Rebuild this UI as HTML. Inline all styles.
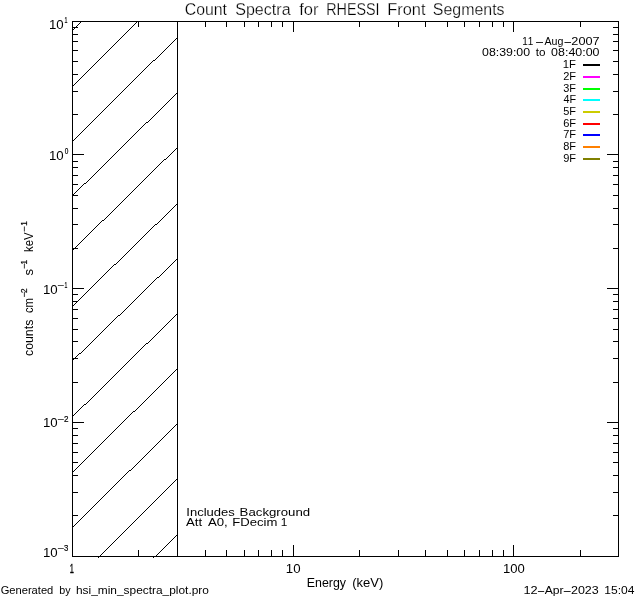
<!DOCTYPE html>
<html><head><meta charset="utf-8"><title>Count Spectra for RHESSI Front Segments</title>
<style>
html,body{margin:0;padding:0;background:#fff;overflow:hidden;}
svg{display:block;}
text{font-family:"Liberation Sans",sans-serif;fill:#000;white-space:pre;font-kerning:none;}
text.t{stroke:#fff;stroke-width:0.25px;}
.b{stroke:#000;stroke-width:0.35px;}
.u{stroke:#000;stroke-width:0.2px;}
</style></head><body>
<svg width="640" height="600" viewBox="0 0 640 600">
<rect x="0" y="0" width="640" height="600" fill="#fff"/>
<g shape-rendering="crispEdges" fill="#000">
<rect x="72" y="21" width="547" height="1"/>
<rect x="72" y="556" width="547" height="1"/>
<rect x="72" y="21" width="1" height="536"/>
<rect x="618" y="21" width="1" height="536"/>
<rect x="177" y="21" width="1" height="536"/>
<rect x="138" y="550" width="1" height="6"/>
<rect x="138" y="22" width="1" height="5"/>
<rect x="177" y="550" width="1" height="6"/>
<rect x="177" y="22" width="1" height="5"/>
<rect x="205" y="550" width="1" height="6"/>
<rect x="205" y="22" width="1" height="5"/>
<rect x="226" y="550" width="1" height="6"/>
<rect x="226" y="22" width="1" height="5"/>
<rect x="244" y="550" width="1" height="6"/>
<rect x="244" y="22" width="1" height="5"/>
<rect x="258" y="550" width="1" height="6"/>
<rect x="258" y="22" width="1" height="5"/>
<rect x="271" y="550" width="1" height="6"/>
<rect x="271" y="22" width="1" height="5"/>
<rect x="282" y="550" width="1" height="6"/>
<rect x="282" y="22" width="1" height="5"/>
<rect x="293" y="545" width="1" height="11"/>
<rect x="293" y="22" width="1" height="10"/>
<rect x="359" y="550" width="1" height="6"/>
<rect x="359" y="22" width="1" height="5"/>
<rect x="398" y="550" width="1" height="6"/>
<rect x="398" y="22" width="1" height="5"/>
<rect x="425" y="550" width="1" height="6"/>
<rect x="425" y="22" width="1" height="5"/>
<rect x="447" y="550" width="1" height="6"/>
<rect x="447" y="22" width="1" height="5"/>
<rect x="464" y="550" width="1" height="6"/>
<rect x="464" y="22" width="1" height="5"/>
<rect x="479" y="550" width="1" height="6"/>
<rect x="479" y="22" width="1" height="5"/>
<rect x="492" y="550" width="1" height="6"/>
<rect x="492" y="22" width="1" height="5"/>
<rect x="503" y="550" width="1" height="6"/>
<rect x="503" y="22" width="1" height="5"/>
<rect x="513" y="545" width="1" height="11"/>
<rect x="513" y="22" width="1" height="10"/>
<rect x="580" y="550" width="1" height="6"/>
<rect x="580" y="22" width="1" height="5"/>
<rect x="73" y="154" width="11" height="1"/>
<rect x="607" y="154" width="11" height="1"/>
<rect x="73" y="114" width="5" height="1"/>
<rect x="613" y="114" width="5" height="1"/>
<rect x="73" y="91" width="5" height="1"/>
<rect x="613" y="91" width="5" height="1"/>
<rect x="73" y="74" width="5" height="1"/>
<rect x="613" y="74" width="5" height="1"/>
<rect x="73" y="61" width="5" height="1"/>
<rect x="613" y="61" width="5" height="1"/>
<rect x="73" y="50" width="5" height="1"/>
<rect x="613" y="50" width="5" height="1"/>
<rect x="73" y="41" width="5" height="1"/>
<rect x="613" y="41" width="5" height="1"/>
<rect x="73" y="34" width="5" height="1"/>
<rect x="613" y="34" width="5" height="1"/>
<rect x="73" y="27" width="5" height="1"/>
<rect x="613" y="27" width="5" height="1"/>
<rect x="73" y="288" width="11" height="1"/>
<rect x="607" y="288" width="11" height="1"/>
<rect x="73" y="248" width="5" height="1"/>
<rect x="613" y="248" width="5" height="1"/>
<rect x="73" y="224" width="5" height="1"/>
<rect x="613" y="224" width="5" height="1"/>
<rect x="73" y="208" width="5" height="1"/>
<rect x="613" y="208" width="5" height="1"/>
<rect x="73" y="195" width="5" height="1"/>
<rect x="613" y="195" width="5" height="1"/>
<rect x="73" y="184" width="5" height="1"/>
<rect x="613" y="184" width="5" height="1"/>
<rect x="73" y="175" width="5" height="1"/>
<rect x="613" y="175" width="5" height="1"/>
<rect x="73" y="167" width="5" height="1"/>
<rect x="613" y="167" width="5" height="1"/>
<rect x="73" y="161" width="5" height="1"/>
<rect x="613" y="161" width="5" height="1"/>
<rect x="73" y="422" width="11" height="1"/>
<rect x="607" y="422" width="11" height="1"/>
<rect x="73" y="382" width="5" height="1"/>
<rect x="613" y="382" width="5" height="1"/>
<rect x="73" y="358" width="5" height="1"/>
<rect x="613" y="358" width="5" height="1"/>
<rect x="73" y="341" width="5" height="1"/>
<rect x="613" y="341" width="5" height="1"/>
<rect x="73" y="329" width="5" height="1"/>
<rect x="613" y="329" width="5" height="1"/>
<rect x="73" y="318" width="5" height="1"/>
<rect x="613" y="318" width="5" height="1"/>
<rect x="73" y="309" width="5" height="1"/>
<rect x="613" y="309" width="5" height="1"/>
<rect x="73" y="301" width="5" height="1"/>
<rect x="613" y="301" width="5" height="1"/>
<rect x="73" y="294" width="5" height="1"/>
<rect x="613" y="294" width="5" height="1"/>
<rect x="73" y="515" width="5" height="1"/>
<rect x="613" y="515" width="5" height="1"/>
<rect x="73" y="492" width="5" height="1"/>
<rect x="613" y="492" width="5" height="1"/>
<rect x="73" y="475" width="5" height="1"/>
<rect x="613" y="475" width="5" height="1"/>
<rect x="73" y="462" width="5" height="1"/>
<rect x="613" y="462" width="5" height="1"/>
<rect x="73" y="452" width="5" height="1"/>
<rect x="613" y="452" width="5" height="1"/>
<rect x="73" y="443" width="5" height="1"/>
<rect x="613" y="443" width="5" height="1"/>
<rect x="73" y="435" width="5" height="1"/>
<rect x="613" y="435" width="5" height="1"/>
<rect x="73" y="428" width="5" height="1"/>
<rect x="613" y="428" width="5" height="1"/>
<path d="M73 29h1v1h-1zm1 -1h1v1h-1zm1 -1h1v1h-1zm1 -1h1v1h-1zm1 -1h1v1h-1zm1 -1h1v1h-1zm1 -1h1v1h-1zm1 -1h1v1h-1zM73 85h1v1h-1zm1 -1h1v1h-1zm1 -1h1v1h-1zm1 -1h1v1h-1zm1 -1h1v1h-1zm1 -1h1v1h-1zm1 -1h1v1h-1zm1 -1h1v1h-1zm1 -1h1v1h-1zm1 -1h1v1h-1zm1 -1h1v1h-1zm1 -1h1v1h-1zm1 -1h1v1h-1zm1 -1h1v1h-1zm1 -1h1v1h-1zm1 -1h1v1h-1zm1 -1h1v1h-1zm1 -1h1v1h-1zm1 -1h1v1h-1zm1 -1h1v1h-1zm1 -1h1v1h-1zm1 -1h1v1h-1zm1 -1h1v1h-1zm1 -1h1v1h-1zm1 -1h1v1h-1zm1 -1h1v1h-1zm1 -1h1v1h-1zm1 -1h1v1h-1zm1 -1h1v1h-1zm1 -1h1v1h-1zm1 -1h1v1h-1zm1 -1h1v1h-1zm1 -1h1v1h-1zm1 -1h1v1h-1zm1 -1h1v1h-1zm1 -1h1v1h-1zm1 -1h1v1h-1zm1 -1h1v1h-1zm1 -1h1v1h-1zm1 -1h1v1h-1zm1 -1h1v1h-1zm1 -1h1v1h-1zm1 -1h1v1h-1zm1 -1h1v1h-1zm1 -1h1v1h-1zm1 -1h1v1h-1zm1 -1h1v1h-1zm1 -1h1v1h-1zm1 -1h1v1h-1zm1 -1h1v1h-1zm1 -1h1v1h-1zm1 -1h1v1h-1zm1 -1h1v1h-1zm1 -1h1v1h-1zm1 -1h1v1h-1zm1 -1h1v1h-1zm1 -1h1v1h-1zm1 -1h1v1h-1zm1 -1h1v1h-1zm1 -1h1v1h-1zm1 -1h1v1h-1zm1 -1h1v1h-1zm1 -1h1v1h-1zm1 -1h1v1h-1zM73 140h1v1h-1zm1 -1h1v1h-1zm1 -1h1v1h-1zm1 -1h1v1h-1zm1 -1h1v1h-1zm1 -1h1v1h-1zm1 -1h1v1h-1zm1 -1h1v1h-1zm1 -1h1v1h-1zm1 -1h1v1h-1zm1 -1h1v1h-1zm1 -1h1v1h-1zm1 -1h1v1h-1zm1 -1h1v1h-1zm1 -1h1v1h-1zm1 -1h1v1h-1zm1 -1h1v1h-1zm1 -1h1v1h-1zm1 -1h1v1h-1zm1 -1h1v1h-1zm1 -1h1v1h-1zm1 -1h1v1h-1zm1 -1h1v1h-1zm1 -1h1v1h-1zm1 -1h1v1h-1zm1 -1h1v1h-1zm1 -1h1v1h-1zm1 -1h1v1h-1zm1 -1h1v1h-1zm1 -1h1v1h-1zm1 -1h1v1h-1zm1 -1h1v1h-1zm1 -1h1v1h-1zm1 -1h1v1h-1zm1 -1h1v1h-1zm1 -1h1v1h-1zm1 -1h1v1h-1zm1 -1h1v1h-1zm1 -1h1v1h-1zm1 -1h1v1h-1zm1 -1h1v1h-1zm1 -1h1v1h-1zm1 -1h1v1h-1zm1 -1h1v1h-1zm1 -1h1v1h-1zm1 -1h1v1h-1zm1 -1h1v1h-1zm1 -1h1v1h-1zm1 -1h1v1h-1zm1 -1h1v1h-1zm1 -1h1v1h-1zm1 -1h1v1h-1zm1 -1h1v1h-1zm1 -1h1v1h-1zm1 -1h1v1h-1zm1 -1h1v1h-1zm1 -1h1v1h-1zm1 -1h1v1h-1zm1 -1h1v1h-1zm1 -1h1v1h-1zm1 -1h1v1h-1zm1 -1h1v1h-1zm1 -1h1v1h-1zm1 -1h1v1h-1zm1 -1h1v1h-1zm1 -1h1v1h-1zm1 -1h1v1h-1zm1 -1h1v1h-1zm1 -1h1v1h-1zm1 -1h1v1h-1zm1 -1h1v1h-1zm1 -1h1v1h-1zm1 -1h1v1h-1zm1 -1h1v1h-1zm1 -1h1v1h-1zm1 -1h1v1h-1zm1 -1h1v1h-1zm1 -1h1v1h-1zm1 -1h1v1h-1zm1 -1h1v1h-1zm1 -1h1v1h-1zm1 0h1v1h-1zm1 -1h1v1h-1zm1 -1h1v1h-1zm1 -1h1v1h-1zm1 -1h1v1h-1zm1 -1h1v1h-1zm1 -1h1v1h-1zm1 -1h1v1h-1zm1 -1h1v1h-1zm1 -1h1v1h-1zm1 -1h1v1h-1zm1 -1h1v1h-1zm1 -1h1v1h-1zm1 -1h1v1h-1zm1 -1h1v1h-1zm1 -1h1v1h-1zm1 -1h1v1h-1zm1 -1h1v1h-1zm1 -1h1v1h-1zm1 -1h1v1h-1zm1 -1h1v1h-1zm1 -1h1v1h-1zm1 -1h1v1h-1zM73 194h1v1h-1zm1 -1h1v1h-1zm1 -1h1v1h-1zm1 -1h1v1h-1zm1 -1h1v1h-1zm1 -1h1v1h-1zm1 -1h1v1h-1zm1 -1h1v1h-1zm1 -1h1v1h-1zm1 -1h1v1h-1zm1 -1h1v1h-1zm1 -1h1v1h-1zm1 0h1v1h-1zm1 -1h1v1h-1zm1 -1h1v1h-1zm1 -1h1v1h-1zm1 -1h1v1h-1zm1 -1h1v1h-1zm1 -1h1v1h-1zm1 -1h1v1h-1zm1 -1h1v1h-1zm1 -1h1v1h-1zm1 -1h1v1h-1zm1 -1h1v1h-1zm1 -1h1v1h-1zm1 -1h1v1h-1zm1 -1h1v1h-1zm1 -1h1v1h-1zm1 -1h1v1h-1zm1 -1h1v1h-1zm1 -1h1v1h-1zm1 -1h1v1h-1zm1 -1h1v1h-1zm1 -1h1v1h-1zm1 -1h1v1h-1zm1 -1h1v1h-1zm1 -1h1v1h-1zm1 -1h1v1h-1zm1 -1h1v1h-1zm1 -1h1v1h-1zm1 -1h1v1h-1zm1 -1h1v1h-1zm1 -1h1v1h-1zm1 -1h1v1h-1zm1 -1h1v1h-1zm1 -1h1v1h-1zm1 -1h1v1h-1zm1 -1h1v1h-1zm1 -1h1v1h-1zm1 -1h1v1h-1zm1 -1h1v1h-1zm1 -1h1v1h-1zm1 -1h1v1h-1zm1 -1h1v1h-1zm1 -1h1v1h-1zm1 -1h1v1h-1zm1 -1h1v1h-1zm1 -1h1v1h-1zm1 -1h1v1h-1zm1 -1h1v1h-1zm1 -1h1v1h-1zm1 -1h1v1h-1zm1 -1h1v1h-1zm1 -1h1v1h-1zm1 -1h1v1h-1zm1 -1h1v1h-1zm1 -1h1v1h-1zm1 -1h1v1h-1zm1 -1h1v1h-1zm1 -1h1v1h-1zm1 -1h1v1h-1zm1 -1h1v1h-1zm1 -1h1v1h-1zm1 -1h1v1h-1zm1 0h1v1h-1zm1 -1h1v1h-1zm1 -1h1v1h-1zm1 -1h1v1h-1zm1 -1h1v1h-1zm1 -1h1v1h-1zm1 -1h1v1h-1zm1 -1h1v1h-1zm1 -1h1v1h-1zm1 -1h1v1h-1zm1 -1h1v1h-1zm1 -1h1v1h-1zm1 -1h1v1h-1zm1 -1h1v1h-1zm1 -1h1v1h-1zm1 -1h1v1h-1zm1 -1h1v1h-1zm1 -1h1v1h-1zm1 -1h1v1h-1zm1 -1h1v1h-1zm1 -1h1v1h-1zm1 -1h1v1h-1zm1 -1h1v1h-1zm1 -1h1v1h-1zm1 -1h1v1h-1zm1 -1h1v1h-1zm1 -1h1v1h-1zm1 -1h1v1h-1zm1 -1h1v1h-1zm1 -1h1v1h-1zM73 249h1v1h-1zm1 -1h1v1h-1zm1 -1h1v1h-1zm1 -1h1v1h-1zm1 -1h1v1h-1zm1 -1h1v1h-1zm1 -1h1v1h-1zm1 -1h1v1h-1zm1 -1h1v1h-1zm1 -1h1v1h-1zm1 -1h1v1h-1zm1 -1h1v1h-1zm1 -1h1v1h-1zm1 -1h1v1h-1zm1 -1h1v1h-1zm1 -1h1v1h-1zm1 -1h1v1h-1zm1 -1h1v1h-1zm1 -1h1v1h-1zm1 -1h1v1h-1zm1 -1h1v1h-1zm1 -1h1v1h-1zm1 -1h1v1h-1zm1 -1h1v1h-1zm1 -1h1v1h-1zm1 -1h1v1h-1zm1 -1h1v1h-1zm1 -1h1v1h-1zm1 -1h1v1h-1zm1 -1h1v1h-1zm1 0h1v1h-1zm1 -1h1v1h-1zm1 -1h1v1h-1zm1 -1h1v1h-1zm1 -1h1v1h-1zm1 -1h1v1h-1zm1 -1h1v1h-1zm1 -1h1v1h-1zm1 -1h1v1h-1zm1 -1h1v1h-1zm1 -1h1v1h-1zm1 -1h1v1h-1zm1 -1h1v1h-1zm1 -1h1v1h-1zm1 -1h1v1h-1zm1 -1h1v1h-1zm1 -1h1v1h-1zm1 -1h1v1h-1zm1 -1h1v1h-1zm1 -1h1v1h-1zm1 -1h1v1h-1zm1 -1h1v1h-1zm1 -1h1v1h-1zm1 -1h1v1h-1zm1 -1h1v1h-1zm1 -1h1v1h-1zm1 -1h1v1h-1zm1 -1h1v1h-1zm1 -1h1v1h-1zm1 -1h1v1h-1zm1 -1h1v1h-1zm1 -1h1v1h-1zm1 -1h1v1h-1zm1 -1h1v1h-1zm1 -1h1v1h-1zm1 -1h1v1h-1zm1 -1h1v1h-1zm1 -1h1v1h-1zm1 -1h1v1h-1zm1 -1h1v1h-1zm1 -1h1v1h-1zm1 -1h1v1h-1zm1 -1h1v1h-1zm1 -1h1v1h-1zm1 -1h1v1h-1zm1 -1h1v1h-1zm1 -1h1v1h-1zm1 -1h1v1h-1zm1 -1h1v1h-1zm1 -1h1v1h-1zm1 -1h1v1h-1zm1 -1h1v1h-1zm1 -1h1v1h-1zm1 -1h1v1h-1zm1 -1h1v1h-1zm1 -1h1v1h-1zm1 -1h1v1h-1zm1 -1h1v1h-1zm1 -1h1v1h-1zm1 -1h1v1h-1zm1 -1h1v1h-1zm1 -1h1v1h-1zm1 0h1v1h-1zm1 -1h1v1h-1zm1 -1h1v1h-1zm1 -1h1v1h-1zm1 -1h1v1h-1zm1 -1h1v1h-1zm1 -1h1v1h-1zm1 -1h1v1h-1zm1 -1h1v1h-1zm1 -1h1v1h-1zm1 -1h1v1h-1zm1 -1h1v1h-1zM73 305h1v1h-1zm1 -1h1v1h-1zm1 -1h1v1h-1zm1 -1h1v1h-1zm1 -1h1v1h-1zm1 -1h1v1h-1zm1 -1h1v1h-1zm1 -1h1v1h-1zm1 -1h1v1h-1zm1 -1h1v1h-1zm1 -1h1v1h-1zm1 -1h1v1h-1zm1 -1h1v1h-1zm1 -1h1v1h-1zm1 -1h1v1h-1zm1 -1h1v1h-1zm1 -1h1v1h-1zm1 -1h1v1h-1zm1 -1h1v1h-1zm1 -1h1v1h-1zm1 -1h1v1h-1zm1 -1h1v1h-1zm1 -1h1v1h-1zm1 -1h1v1h-1zm1 -1h1v1h-1zm1 -1h1v1h-1zm1 -1h1v1h-1zm1 -1h1v1h-1zm1 -1h1v1h-1zm1 -1h1v1h-1zm1 -1h1v1h-1zm1 -1h1v1h-1zm1 -1h1v1h-1zm1 -1h1v1h-1zm1 -1h1v1h-1zm1 -1h1v1h-1zm1 -1h1v1h-1zm1 -1h1v1h-1zm1 -1h1v1h-1zm1 -1h1v1h-1zm1 -1h1v1h-1zm1 -1h1v1h-1zm1 0h1v1h-1zm1 -1h1v1h-1zm1 -1h1v1h-1zm1 -1h1v1h-1zm1 -1h1v1h-1zm1 -1h1v1h-1zm1 -1h1v1h-1zm1 -1h1v1h-1zm1 -1h1v1h-1zm1 -1h1v1h-1zm1 -1h1v1h-1zm1 -1h1v1h-1zm1 -1h1v1h-1zm1 -1h1v1h-1zm1 -1h1v1h-1zm1 -1h1v1h-1zm1 -1h1v1h-1zm1 -1h1v1h-1zm1 -1h1v1h-1zm1 -1h1v1h-1zm1 -1h1v1h-1zm1 -1h1v1h-1zm1 -1h1v1h-1zm1 -1h1v1h-1zm1 -1h1v1h-1zm1 -1h1v1h-1zm1 -1h1v1h-1zm1 -1h1v1h-1zm1 -1h1v1h-1zm1 -1h1v1h-1zm1 -1h1v1h-1zm1 -1h1v1h-1zm1 -1h1v1h-1zm1 -1h1v1h-1zm1 -1h1v1h-1zm1 -1h1v1h-1zm1 -1h1v1h-1zm1 -1h1v1h-1zm1 -1h1v1h-1zm1 -1h1v1h-1zm1 -1h1v1h-1zm1 0h1v1h-1zm1 -1h1v1h-1zm1 -1h1v1h-1zm1 -1h1v1h-1zm1 -1h1v1h-1zm1 -1h1v1h-1zm1 -1h1v1h-1zm1 -1h1v1h-1zm1 -1h1v1h-1zm1 -1h1v1h-1zm1 -1h1v1h-1zm1 -1h1v1h-1zm1 -1h1v1h-1zm1 -1h1v1h-1zm1 -1h1v1h-1zm1 -1h1v1h-1zm1 -1h1v1h-1zm1 -1h1v1h-1zm1 -1h1v1h-1zm1 -1h1v1h-1zm1 -1h1v1h-1zM73 359h1v1h-1zm1 -1h1v1h-1zm1 -1h1v1h-1zm1 -1h1v1h-1zm1 -1h1v1h-1zm1 -1h1v1h-1zm1 -1h1v1h-1zm1 0h1v1h-1zm1 -1h1v1h-1zm1 -1h1v1h-1zm1 -1h1v1h-1zm1 -1h1v1h-1zm1 -1h1v1h-1zm1 -1h1v1h-1zm1 -1h1v1h-1zm1 -1h1v1h-1zm1 -1h1v1h-1zm1 -1h1v1h-1zm1 -1h1v1h-1zm1 -1h1v1h-1zm1 -1h1v1h-1zm1 -1h1v1h-1zm1 -1h1v1h-1zm1 -1h1v1h-1zm1 -1h1v1h-1zm1 -1h1v1h-1zm1 -1h1v1h-1zm1 -1h1v1h-1zm1 -1h1v1h-1zm1 -1h1v1h-1zm1 -1h1v1h-1zm1 -1h1v1h-1zm1 -1h1v1h-1zm1 -1h1v1h-1zm1 -1h1v1h-1zm1 -1h1v1h-1zm1 -1h1v1h-1zm1 -1h1v1h-1zm1 -1h1v1h-1zm1 -1h1v1h-1zm1 -1h1v1h-1zm1 -1h1v1h-1zm1 -1h1v1h-1zm1 -1h1v1h-1zm1 -1h1v1h-1zm1 -1h1v1h-1zm1 0h1v1h-1zm1 -1h1v1h-1zm1 -1h1v1h-1zm1 -1h1v1h-1zm1 -1h1v1h-1zm1 -1h1v1h-1zm1 -1h1v1h-1zm1 -1h1v1h-1zm1 -1h1v1h-1zm1 -1h1v1h-1zm1 -1h1v1h-1zm1 -1h1v1h-1zm1 -1h1v1h-1zm1 -1h1v1h-1zm1 -1h1v1h-1zm1 -1h1v1h-1zm1 -1h1v1h-1zm1 -1h1v1h-1zm1 -1h1v1h-1zm1 -1h1v1h-1zm1 -1h1v1h-1zm1 -1h1v1h-1zm1 -1h1v1h-1zm1 -1h1v1h-1zm1 -1h1v1h-1zm1 -1h1v1h-1zm1 -1h1v1h-1zm1 -1h1v1h-1zm1 -1h1v1h-1zm1 -1h1v1h-1zm1 -1h1v1h-1zm1 -1h1v1h-1zm1 -1h1v1h-1zm1 -1h1v1h-1zm1 -1h1v1h-1zm1 -1h1v1h-1zm1 -1h1v1h-1zm1 -1h1v1h-1zm1 -1h1v1h-1zm1 0h1v1h-1zm1 -1h1v1h-1zm1 -1h1v1h-1zm1 -1h1v1h-1zm1 -1h1v1h-1zm1 -1h1v1h-1zm1 -1h1v1h-1zm1 -1h1v1h-1zm1 -1h1v1h-1zm1 -1h1v1h-1zm1 -1h1v1h-1zm1 -1h1v1h-1zm1 -1h1v1h-1zm1 -1h1v1h-1zm1 -1h1v1h-1zm1 -1h1v1h-1zm1 -1h1v1h-1zm1 -1h1v1h-1zm1 -1h1v1h-1zM73 415h1v1h-1zm1 -1h1v1h-1zm1 -1h1v1h-1zm1 -1h1v1h-1zm1 -1h1v1h-1zm1 -1h1v1h-1zm1 -1h1v1h-1zm1 -1h1v1h-1zm1 -1h1v1h-1zm1 -1h1v1h-1zm1 -1h1v1h-1zm1 -1h1v1h-1zm1 0h1v1h-1zm1 -1h1v1h-1zm1 -1h1v1h-1zm1 -1h1v1h-1zm1 -1h1v1h-1zm1 -1h1v1h-1zm1 -1h1v1h-1zm1 -1h1v1h-1zm1 -1h1v1h-1zm1 -1h1v1h-1zm1 -1h1v1h-1zm1 -1h1v1h-1zm1 -1h1v1h-1zm1 -1h1v1h-1zm1 -1h1v1h-1zm1 -1h1v1h-1zm1 -1h1v1h-1zm1 -1h1v1h-1zm1 -1h1v1h-1zm1 -1h1v1h-1zm1 -1h1v1h-1zm1 -1h1v1h-1zm1 -1h1v1h-1zm1 -1h1v1h-1zm1 -1h1v1h-1zm1 -1h1v1h-1zm1 -1h1v1h-1zm1 -1h1v1h-1zm1 -1h1v1h-1zm1 -1h1v1h-1zm1 -1h1v1h-1zm1 -1h1v1h-1zm1 -1h1v1h-1zm1 -1h1v1h-1zm1 -1h1v1h-1zm1 -1h1v1h-1zm1 -1h1v1h-1zm1 -1h1v1h-1zm1 -1h1v1h-1zm1 -1h1v1h-1zm1 -1h1v1h-1zm1 -1h1v1h-1zm1 -1h1v1h-1zm1 -1h1v1h-1zm1 -1h1v1h-1zm1 -1h1v1h-1zm1 -1h1v1h-1zm1 -1h1v1h-1zm1 -1h1v1h-1zm1 -1h1v1h-1zm1 -1h1v1h-1zm1 -1h1v1h-1zm1 -1h1v1h-1zm1 -1h1v1h-1zm1 -1h1v1h-1zm1 -1h1v1h-1zm1 -1h1v1h-1zm1 -1h1v1h-1zm1 -1h1v1h-1zm1 -1h1v1h-1zm1 -1h1v1h-1zm1 -1h1v1h-1zm1 0h1v1h-1zm1 -1h1v1h-1zm1 -1h1v1h-1zm1 -1h1v1h-1zm1 -1h1v1h-1zm1 -1h1v1h-1zm1 -1h1v1h-1zm1 -1h1v1h-1zm1 -1h1v1h-1zm1 -1h1v1h-1zm1 -1h1v1h-1zm1 -1h1v1h-1zm1 -1h1v1h-1zm1 -1h1v1h-1zm1 -1h1v1h-1zm1 -1h1v1h-1zm1 -1h1v1h-1zm1 -1h1v1h-1zm1 -1h1v1h-1zm1 -1h1v1h-1zm1 -1h1v1h-1zm1 -1h1v1h-1zm1 -1h1v1h-1zm1 -1h1v1h-1zm1 -1h1v1h-1zm1 -1h1v1h-1zm1 -1h1v1h-1zm1 -1h1v1h-1zm1 -1h1v1h-1zm1 -1h1v1h-1zM73 471h1v1h-1zm1 -1h1v1h-1zm1 -1h1v1h-1zm1 -1h1v1h-1zm1 -1h1v1h-1zm1 -1h1v1h-1zm1 -1h1v1h-1zm1 -1h1v1h-1zm1 -1h1v1h-1zm1 -1h1v1h-1zm1 -1h1v1h-1zm1 -1h1v1h-1zm1 -1h1v1h-1zm1 -1h1v1h-1zm1 -1h1v1h-1zm1 -1h1v1h-1zm1 -1h1v1h-1zm1 -1h1v1h-1zm1 -1h1v1h-1zm1 -1h1v1h-1zm1 -1h1v1h-1zm1 -1h1v1h-1zm1 -1h1v1h-1zm1 -1h1v1h-1zm1 -1h1v1h-1zm1 -1h1v1h-1zm1 -1h1v1h-1zm1 -1h1v1h-1zm1 -1h1v1h-1zm1 -1h1v1h-1zm1 -1h1v1h-1zm1 -1h1v1h-1zm1 -1h1v1h-1zm1 -1h1v1h-1zm1 -1h1v1h-1zm1 -1h1v1h-1zm1 -1h1v1h-1zm1 -1h1v1h-1zm1 -1h1v1h-1zm1 -1h1v1h-1zm1 -1h1v1h-1zm1 -1h1v1h-1zm1 -1h1v1h-1zm1 -1h1v1h-1zm1 -1h1v1h-1zm1 -1h1v1h-1zm1 -1h1v1h-1zm1 -1h1v1h-1zm1 -1h1v1h-1zm1 -1h1v1h-1zm1 -1h1v1h-1zm1 -1h1v1h-1zm1 -1h1v1h-1zm1 -1h1v1h-1zm1 -1h1v1h-1zm1 -1h1v1h-1zm1 -1h1v1h-1zm1 -1h1v1h-1zm1 -1h1v1h-1zm1 -1h1v1h-1zm1 -1h1v1h-1zm1 0h1v1h-1zm1 -1h1v1h-1zm1 -1h1v1h-1zm1 -1h1v1h-1zm1 -1h1v1h-1zm1 -1h1v1h-1zm1 -1h1v1h-1zm1 -1h1v1h-1zm1 -1h1v1h-1zm1 -1h1v1h-1zm1 -1h1v1h-1zm1 -1h1v1h-1zm1 -1h1v1h-1zm1 -1h1v1h-1zm1 -1h1v1h-1zm1 -1h1v1h-1zm1 -1h1v1h-1zm1 -1h1v1h-1zm1 -1h1v1h-1zm1 -1h1v1h-1zm1 -1h1v1h-1zm1 -1h1v1h-1zm1 -1h1v1h-1zm1 -1h1v1h-1zm1 -1h1v1h-1zm1 -1h1v1h-1zm1 -1h1v1h-1zm1 -1h1v1h-1zm1 -1h1v1h-1zm1 -1h1v1h-1zm1 -1h1v1h-1zm1 -1h1v1h-1zm1 -1h1v1h-1zm1 -1h1v1h-1zm1 -1h1v1h-1zm1 -1h1v1h-1zm1 -1h1v1h-1zm1 -1h1v1h-1zm1 -1h1v1h-1zm1 -1h1v1h-1zm1 -1h1v1h-1zm1 -1h1v1h-1zm1 -1h1v1h-1zM73 526h1v1h-1zm1 -1h1v1h-1zm1 -1h1v1h-1zm1 -1h1v1h-1zm1 -1h1v1h-1zm1 -1h1v1h-1zm1 -1h1v1h-1zm1 -1h1v1h-1zm1 -1h1v1h-1zm1 -1h1v1h-1zm1 -1h1v1h-1zm1 -1h1v1h-1zm1 -1h1v1h-1zm1 -1h1v1h-1zm1 -1h1v1h-1zm1 -1h1v1h-1zm1 -1h1v1h-1zm1 -1h1v1h-1zm1 -1h1v1h-1zm1 -1h1v1h-1zm1 -1h1v1h-1zm1 -1h1v1h-1zm1 -1h1v1h-1zm1 -1h1v1h-1zm1 -1h1v1h-1zm1 -1h1v1h-1zm1 -1h1v1h-1zm1 -1h1v1h-1zm1 -1h1v1h-1zm1 -1h1v1h-1zm1 -1h1v1h-1zm1 -1h1v1h-1zm1 -1h1v1h-1zm1 -1h1v1h-1zm1 -1h1v1h-1zm1 -1h1v1h-1zm1 -1h1v1h-1zm1 -1h1v1h-1zm1 -1h1v1h-1zm1 -1h1v1h-1zm1 -1h1v1h-1zm1 -1h1v1h-1zm1 -1h1v1h-1zm1 -1h1v1h-1zm1 -1h1v1h-1zm1 -1h1v1h-1zm1 -1h1v1h-1zm1 -1h1v1h-1zm1 -1h1v1h-1zm1 -1h1v1h-1zm1 -1h1v1h-1zm1 -1h1v1h-1zm1 -1h1v1h-1zm1 -1h1v1h-1zm1 -1h1v1h-1zm1 -1h1v1h-1zm1 -1h1v1h-1zm1 0h1v1h-1zm1 -1h1v1h-1zm1 -1h1v1h-1zm1 -1h1v1h-1zm1 -1h1v1h-1zm1 -1h1v1h-1zm1 -1h1v1h-1zm1 -1h1v1h-1zm1 -1h1v1h-1zm1 -1h1v1h-1zm1 -1h1v1h-1zm1 -1h1v1h-1zm1 -1h1v1h-1zm1 -1h1v1h-1zm1 -1h1v1h-1zm1 -1h1v1h-1zm1 -1h1v1h-1zm1 -1h1v1h-1zm1 -1h1v1h-1zm1 -1h1v1h-1zm1 -1h1v1h-1zm1 -1h1v1h-1zm1 -1h1v1h-1zm1 -1h1v1h-1zm1 -1h1v1h-1zm1 -1h1v1h-1zm1 -1h1v1h-1zm1 -1h1v1h-1zm1 -1h1v1h-1zm1 -1h1v1h-1zm1 -1h1v1h-1zm1 -1h1v1h-1zm1 -1h1v1h-1zm1 -1h1v1h-1zm1 -1h1v1h-1zm1 -1h1v1h-1zm1 -1h1v1h-1zm1 -1h1v1h-1zm1 -1h1v1h-1zm1 -1h1v1h-1zm1 -1h1v1h-1zm1 -1h1v1h-1zm1 -1h1v1h-1zm1 -1h1v1h-1zm1 -1h1v1h-1zm1 -1h1v1h-1zm1 -1h1v1h-1zM100 555h1v1h-1zm1 -1h1v1h-1zm1 -1h1v1h-1zm1 -1h1v1h-1zm1 -1h1v1h-1zm1 -1h1v1h-1zm1 -1h1v1h-1zm1 -1h1v1h-1zm1 -1h1v1h-1zm1 -1h1v1h-1zm1 -1h1v1h-1zm1 -1h1v1h-1zm1 -1h1v1h-1zm1 -1h1v1h-1zm1 -1h1v1h-1zm1 -1h1v1h-1zm1 -1h1v1h-1zm1 -1h1v1h-1zm1 -1h1v1h-1zm1 -1h1v1h-1zm1 -1h1v1h-1zm1 -1h1v1h-1zm1 -1h1v1h-1zm1 -1h1v1h-1zm1 -1h1v1h-1zm1 -1h1v1h-1zm1 -1h1v1h-1zm1 -1h1v1h-1zm1 -1h1v1h-1zm1 -1h1v1h-1zm1 -1h1v1h-1zm1 -1h1v1h-1zm1 -1h1v1h-1zm1 -1h1v1h-1zm1 -1h1v1h-1zm1 -1h1v1h-1zm1 -1h1v1h-1zm1 -1h1v1h-1zm1 -1h1v1h-1zm1 -1h1v1h-1zm1 -1h1v1h-1zm1 -1h1v1h-1zm1 -1h1v1h-1zm1 -1h1v1h-1zm1 -1h1v1h-1zm1 -1h1v1h-1zm1 -1h1v1h-1zm1 -1h1v1h-1zm1 -1h1v1h-1zm1 -1h1v1h-1zm1 -1h1v1h-1zm1 -1h1v1h-1zm1 -1h1v1h-1zm1 -1h1v1h-1zm1 -1h1v1h-1zm1 -1h1v1h-1zm1 -1h1v1h-1zm1 -1h1v1h-1zm1 -1h1v1h-1zm1 -1h1v1h-1zm1 -1h1v1h-1zm1 -1h1v1h-1zm1 -1h1v1h-1zm1 -1h1v1h-1zm1 -1h1v1h-1zm1 -1h1v1h-1zm1 -1h1v1h-1zm1 -1h1v1h-1zm1 -1h1v1h-1zm1 -1h1v1h-1zm1 -1h1v1h-1zm1 -1h1v1h-1zm1 -1h1v1h-1zm1 -1h1v1h-1zm1 -1h1v1h-1zm1 -1h1v1h-1zm1 -1h1v1h-1zM156 555h1v1h-1zm1 -1h1v1h-1zm1 -1h1v1h-1zm1 -1h1v1h-1zm1 -1h1v1h-1zm1 -1h1v1h-1zm1 -1h1v1h-1zm1 -1h1v1h-1zm1 -1h1v1h-1zm1 -1h1v1h-1zm1 -1h1v1h-1zm1 -1h1v1h-1zm1 -1h1v1h-1zm1 -1h1v1h-1zm1 -1h1v1h-1zm1 -1h1v1h-1zm1 -1h1v1h-1zm1 -1h1v1h-1zm1 -1h1v1h-1zm1 -1h1v1h-1zm1 -1h1v1h-1z"/>
<rect x="98" y="557" width="1" height="1"/>
<rect x="153" y="557" width="1" height="1"/>
<rect x="583" y="64" width="17" height="2" fill="#000000"/>
<rect x="583" y="76" width="17" height="2" fill="#ff00ff"/>
<rect x="583" y="88" width="17" height="2" fill="#00ff00"/>
<rect x="583" y="99" width="17" height="2" fill="#00ffff"/>
<rect x="583" y="111" width="17" height="2" fill="#cccc00"/>
<rect x="583" y="123" width="17" height="2" fill="#ff0000"/>
<rect x="583" y="134" width="17" height="2" fill="#0000ff"/>
<rect x="583" y="146" width="17" height="2" fill="#ff8000"/>
<rect x="583" y="158" width="17" height="2" fill="#808000"/>
</g>
<g style="filter:grayscale(1)">
<text y="15" font-size="16.3" class="t"><tspan x="184.8" textLength="42.22" lengthAdjust="spacingAndGlyphs">Count</tspan> <tspan x="235.17" textLength="55.43" lengthAdjust="spacingAndGlyphs">Spectra</tspan> <tspan x="299.27" textLength="19.31" lengthAdjust="spacingAndGlyphs">for</tspan> <tspan x="326.23" textLength="53.3" lengthAdjust="spacingAndGlyphs">RHESSI</tspan> <tspan x="387.26" textLength="38.26" lengthAdjust="spacingAndGlyphs">Front</tspan> <tspan x="432.78" textLength="71.8" lengthAdjust="spacingAndGlyphs">Segments</tspan></text>
<text y="573" font-size="13" class="b"><tspan x="69.63" textLength="4.13" lengthAdjust="spacingAndGlyphs">1</tspan></text>
<text y="573" font-size="13"><tspan x="285.89" textLength="14.73" lengthAdjust="spacingAndGlyphs">10</tspan></text>
<text y="573" font-size="13"><tspan x="502.9" textLength="21.81" lengthAdjust="spacingAndGlyphs">100</tspan></text>
<text y="587" font-size="13"><tspan x="306.78" textLength="39.24" lengthAdjust="spacingAndGlyphs">Energy</tspan> <tspan x="352.19" textLength="31.12" lengthAdjust="spacingAndGlyphs">(keV)</tspan></text>
<text y="29"><tspan x="48.99" font-size="13" textLength="14.73" lengthAdjust="spacingAndGlyphs">10</tspan><tspan class="u" x="64.59" y="23" font-size="8.2" textLength="2.97" lengthAdjust="spacingAndGlyphs">1</tspan></text>
<text y="160"><tspan x="48.99" font-size="13" textLength="14.73" lengthAdjust="spacingAndGlyphs">10</tspan><tspan class="u" x="64.75" y="154" font-size="8.2" textLength="3.61" lengthAdjust="spacingAndGlyphs">0</tspan></text>
<text y="294"><tspan x="42.99" font-size="13" textLength="14.73" lengthAdjust="spacingAndGlyphs">10</tspan><tspan class="u" x="57.73" y="288" font-size="8.2" textLength="6.73" lengthAdjust="spacingAndGlyphs">−</tspan><tspan class="u" x="64.61" y="288" font-size="8.2" textLength="2.84" lengthAdjust="spacingAndGlyphs">1</tspan></text>
<text y="427"><tspan x="42.99" font-size="13" textLength="14.73" lengthAdjust="spacingAndGlyphs">10</tspan><tspan class="u" x="57.73" y="422" font-size="8.2" textLength="6.73" lengthAdjust="spacingAndGlyphs">−</tspan><tspan class="u" x="63.99" y="422" font-size="8.2" textLength="4.52" lengthAdjust="spacingAndGlyphs">2</tspan></text>
<text y="557"><tspan x="42.99" font-size="13" textLength="14.73" lengthAdjust="spacingAndGlyphs">10</tspan><tspan class="u" x="57.73" y="551" font-size="8.2" textLength="6.73" lengthAdjust="spacingAndGlyphs">−</tspan><tspan class="u" x="64.1" y="551" font-size="8.2" textLength="4.34" lengthAdjust="spacingAndGlyphs">3</tspan></text>
<text y="45.2" font-size="11.8"><tspan x="522.24" textLength="11.04" lengthAdjust="spacingAndGlyphs">11</tspan><tspan x="534.73" textLength="9.55" lengthAdjust="spacingAndGlyphs">-</tspan><tspan x="544.48" textLength="18.91" lengthAdjust="spacingAndGlyphs">Aug</tspan><tspan x="563.2" textLength="9" lengthAdjust="spacingAndGlyphs">-</tspan><tspan x="571.36" textLength="28.28" lengthAdjust="spacingAndGlyphs">2007</tspan></text>
<text y="56.4" font-size="11.8"><tspan x="482.02" textLength="48.06" lengthAdjust="spacingAndGlyphs">08:39:00</tspan> <tspan x="535.72" textLength="9.77" lengthAdjust="spacingAndGlyphs">to</tspan> <tspan x="551.11" textLength="48.37" lengthAdjust="spacingAndGlyphs">08:40:00</tspan></text>
<text y="68" font-size="11.8"><tspan x="562.84" textLength="13.22" lengthAdjust="spacingAndGlyphs">1F</tspan></text>
<text y="80" font-size="11.8"><tspan x="563.14" textLength="12.9" lengthAdjust="spacingAndGlyphs">2F</tspan></text>
<text y="92" font-size="11.8"><tspan x="563.28" textLength="12.75" lengthAdjust="spacingAndGlyphs">3F</tspan></text>
<text y="103" font-size="11.8"><tspan x="563.45" textLength="12.58" lengthAdjust="spacingAndGlyphs">4F</tspan></text>
<text y="115" font-size="11.8"><tspan x="563.26" textLength="12.78" lengthAdjust="spacingAndGlyphs">5F</tspan></text>
<text y="127" font-size="11.8"><tspan x="563.14" textLength="12.9" lengthAdjust="spacingAndGlyphs">6F</tspan></text>
<text y="138" font-size="11.8"><tspan x="563.13" textLength="12.91" lengthAdjust="spacingAndGlyphs">7F</tspan></text>
<text y="150" font-size="11.8"><tspan x="563.22" textLength="12.82" lengthAdjust="spacingAndGlyphs">8F</tspan></text>
<text y="162" font-size="11.8"><tspan x="563.18" textLength="12.86" lengthAdjust="spacingAndGlyphs">9F</tspan></text>
<text y="516" font-size="11.8"><tspan x="186.3" textLength="48.47" lengthAdjust="spacingAndGlyphs">Includes</tspan> <tspan x="239.62" textLength="70.54" lengthAdjust="spacingAndGlyphs">Background</tspan></text>
<text y="526" font-size="11.8"><tspan x="185.97" textLength="16.12" lengthAdjust="spacingAndGlyphs">Att</tspan> <tspan x="207.97" textLength="19.81" lengthAdjust="spacingAndGlyphs">A0,</tspan> <tspan x="232.22" textLength="45.14" lengthAdjust="spacingAndGlyphs">FDecim</tspan> <tspan x="280.86">1</tspan></text>
<text y="594" font-size="11.8"><tspan x="0.64" textLength="52.68" lengthAdjust="spacingAndGlyphs">Generated</tspan> <tspan x="59.31" textLength="11.31" lengthAdjust="spacingAndGlyphs">by</tspan> <tspan x="75.98" textLength="132.92" lengthAdjust="spacingAndGlyphs">hsi_min_spectra_plot.pro</tspan></text>
<text y="594" font-size="11.8"><tspan x="523.43" textLength="14.22" lengthAdjust="spacingAndGlyphs">12</tspan><tspan x="536.85" textLength="8.59" lengthAdjust="spacingAndGlyphs">-</tspan><tspan x="544.68" textLength="18.93" lengthAdjust="spacingAndGlyphs">Apr</tspan><tspan x="562.54" textLength="9.41" lengthAdjust="spacingAndGlyphs">-</tspan><tspan x="570.97" textLength="27.78" lengthAdjust="spacingAndGlyphs">2023</tspan> <tspan x="604.28" textLength="30.17" lengthAdjust="spacingAndGlyphs">15:04</tspan></text>
<text transform="translate(32.6,356.0) rotate(-90)" y="0" font-size="13"><tspan x="0" textLength="36.3" lengthAdjust="spacingAndGlyphs">counts</tspan> <tspan x="43" textLength="15" lengthAdjust="spacingAndGlyphs">cm</tspan><tspan class="u" x="59" dy="-6" font-size="8.2" textLength="5.6" lengthAdjust="spacingAndGlyphs">−</tspan><tspan class="u" x="67" font-size="8.2" text-anchor="middle">2</tspan> <tspan x="80.5" dy="6">s</tspan><tspan class="u" x="87.5" dy="-6" font-size="8.2" textLength="5.6" lengthAdjust="spacingAndGlyphs">−</tspan><tspan class="u" x="95.5" font-size="8.2" text-anchor="middle">1</tspan> <tspan x="104" dy="6" textLength="19.6" lengthAdjust="spacingAndGlyphs">keV</tspan><tspan class="u" x="124.5" dy="-6" font-size="8.2" textLength="5.6" lengthAdjust="spacingAndGlyphs">−</tspan><tspan class="u" x="132.5" font-size="8.2" text-anchor="middle">1</tspan></text>
</g>
</svg>
</body></html>
